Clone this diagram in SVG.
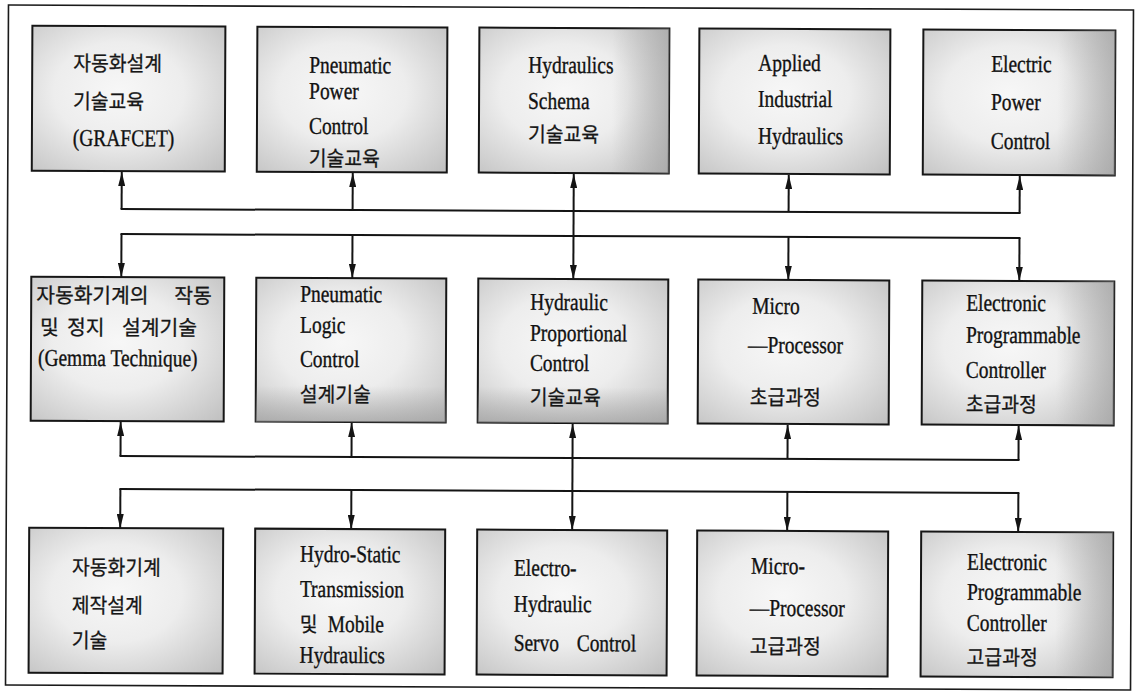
<svg xmlns="http://www.w3.org/2000/svg" width="1140" height="694" viewBox="0 0 1140 694">
  <defs>
    <style>
      .box { fill: url(#shade); stroke: #161616; stroke-width: 2; }
      .lat { font-family: "Liberation Serif", "Times New Roman", serif; font-size: 24px; fill: #111; stroke: #111; stroke-width: 0.35px; }
      .kor { font-family: "Noto Sans CJK KR", "Noto Sans CJK SC", sans-serif; font-size: 21px; fill: #161616; stroke: #161616; stroke-width: 0.3px; }
      .wire { stroke: #141414; stroke-width: 2; fill: none; stroke-linecap: square; }
      .arrow { stroke: #141414; stroke-width: 2; fill: none; }
    </style>
    <radialGradient id="shade" cx="0.45" cy="0.45" r="0.75">
      <stop offset="0" stop-color="#f7f7f7"/>
      <stop offset="0.45" stop-color="#ededed"/>
      <stop offset="1" stop-color="#c2c2c2"/>
    </radialGradient>
    <linearGradient id="edgeR" x1="0" y1="0" x2="1" y2="0">
      <stop offset="0.7" stop-color="#9a9a9a" stop-opacity="0"/>
      <stop offset="1" stop-color="#9a9a9a" stop-opacity="0.55"/>
    </linearGradient>
    <linearGradient id="edgeB" x1="0" y1="0" x2="0" y2="1">
      <stop offset="0.75" stop-color="#9a9a9a" stop-opacity="0"/>
      <stop offset="1" stop-color="#9a9a9a" stop-opacity="0.6"/>
    </linearGradient>
    <marker id="head" viewBox="0 0 14 7" refX="14" refY="3.5" markerWidth="14" markerHeight="7" markerUnits="userSpaceOnUse" orient="auto-start-reverse">
      <path d="M0,0 L14,3.5 L0,7 z" fill="#141414"/>
    </marker>
  </defs>

  <rect width="1140" height="694" fill="#ffffff"/>

  <g transform="rotate(0.25 570 347)">
    <!-- outer frame -->
    <rect x="7" y="7.5" width="1125" height="680" fill="none" stroke="#1a1a1a" stroke-width="1.6"/>

    <!-- connectors -->
    <g id="connectors">
      <!-- upper buses -->
      <line class="wire" x1="121" y1="211" x2="1019" y2="211"/>
      <line class="wire" x1="121" y1="236" x2="1019" y2="236"/>
      <!-- arrows up into the first row -->
      <line class="arrow" x1="121" y1="211" x2="121" y2="174" marker-end="url(#head)"/>
      <line class="arrow" x1="352" y1="211" x2="352" y2="174" marker-end="url(#head)"/>
      <line class="arrow" x1="788" y1="211" x2="788" y2="174" marker-end="url(#head)"/>
      <line class="arrow" x1="1019" y1="211" x2="1019" y2="174" marker-end="url(#head)"/>
      <!-- centre column, both ways -->
      <line class="arrow" x1="573" y1="174" x2="573" y2="279" marker-start="url(#head)" marker-end="url(#head)"/>
      <!-- arrows down into the second row -->
      <line class="arrow" x1="121" y1="236" x2="121" y2="279" marker-end="url(#head)"/>
      <line class="arrow" x1="352" y1="236" x2="352" y2="279" marker-end="url(#head)"/>
      <line class="arrow" x1="788" y1="236" x2="788" y2="279" marker-end="url(#head)"/>
      <line class="arrow" x1="1019" y1="236" x2="1019" y2="279" marker-end="url(#head)"/>

      <!-- lower buses -->
      <line class="wire" x1="121" y1="458" x2="1019" y2="458"/>
      <line class="wire" x1="121" y1="491" x2="1019" y2="491"/>
      <!-- arrows up into the second row -->
      <line class="arrow" x1="121" y1="458" x2="121" y2="424" marker-end="url(#head)"/>
      <line class="arrow" x1="352" y1="458" x2="352" y2="424" marker-end="url(#head)"/>
      <line class="arrow" x1="788" y1="458" x2="788" y2="424" marker-end="url(#head)"/>
      <line class="arrow" x1="1019" y1="458" x2="1019" y2="424" marker-end="url(#head)"/>
      <line class="arrow" x1="573" y1="424" x2="573" y2="530" marker-start="url(#head)" marker-end="url(#head)"/>
      <!-- arrows down into the third row -->
      <line class="arrow" x1="121" y1="491" x2="121" y2="530" marker-end="url(#head)"/>
      <line class="arrow" x1="352" y1="491" x2="352" y2="530" marker-end="url(#head)"/>
      <line class="arrow" x1="788" y1="491" x2="788" y2="530" marker-end="url(#head)"/>
      <line class="arrow" x1="1019" y1="491" x2="1019" y2="530" marker-end="url(#head)"/>
    </g>

    <!-- first row -->
    <g id="grafcet">
      <rect class="box" x="31" y="28" width="193" height="145"/>
      <text class="kor" transform="translate(72 73) scale(.92 1)">자동화설계</text>
      <text class="kor" transform="translate(72 111) scale(.92 1)">기술교육</text>
      <text class="lat" transform="translate(72 148) scale(.81 1)">(GRAFCET)</text>
    </g>
    <g id="pneumatic-power">
      <rect class="box" x="256" y="28" width="190" height="145"/>
      <text class="lat" transform="translate(308 74) scale(.81 1)">Pneumatic</text>
      <text class="lat" transform="translate(308 100) scale(.81 1)">Power</text>
      <text class="lat" transform="translate(308 135) scale(.81 1)">Control</text>
      <text class="kor" transform="translate(308 167) scale(.92 1)">기술교육</text>
    </g>
    <g id="hydraulics-schema">
      <rect class="box" x="478" y="28" width="190" height="145"/>
      <rect x="478" y="28" width="190" height="145" fill="url(#edgeR)"/>
      <text class="lat" transform="translate(527 73) scale(.81 1)">Hydraulics</text>
      <text class="lat" transform="translate(527 109) scale(.81 1)">Schema</text>
      <text class="kor" transform="translate(527 142) scale(.92 1)">기술교육</text>
    </g>
    <g id="applied-hydraulics">
      <rect class="box" x="698" y="28" width="191" height="145"/>
      <text class="lat" transform="translate(757 70) scale(.81 1)">Applied</text>
      <text class="lat" transform="translate(757 106) scale(.81 1)">Industrial</text>
      <text class="lat" transform="translate(757 143) scale(.81 1)">Hydraulics</text>
    </g>
    <g id="electric-power">
      <rect class="box" x="922" y="28" width="192" height="145"/>
      <rect x="922" y="28" width="192" height="145" fill="url(#edgeR)"/>
      <text class="lat" transform="translate(990 70) scale(.81 1)">Electric</text>
      <text class="lat" transform="translate(990 108) scale(.81 1)">Power</text>
      <text class="lat" transform="translate(990 147) scale(.81 1)">Control</text>
    </g>

    <!-- second row -->
    <g id="gemma">
      <rect class="box" x="31" y="279" width="193" height="144"/>
      <text class="kor" transform="translate(36 305) scale(.97 1)">자동화기계의</text>
      <text class="kor" transform="translate(174 305) scale(.97 1)">작동</text>
      <text class="kor" transform="translate(40 337) scale(.97 1)">및</text>
      <text class="kor" transform="translate(67 337) scale(.97 1)">정지</text>
      <text class="kor" transform="translate(122 337) scale(.97 1)">설계기술</text>
      <text class="lat" transform="translate(38 368) scale(.81 1)">(Gemma Technique)</text>
    </g>
    <g id="pneumatic-logic">
      <rect class="box" x="256" y="279" width="190" height="144"/>
      <rect x="256" y="279" width="190" height="144" fill="url(#edgeB)"/>
      <text class="lat" transform="translate(300 303) scale(.81 1)">Pneumatic</text>
      <text class="lat" transform="translate(300 334) scale(.81 1)">Logic</text>
      <text class="lat" transform="translate(300 368) scale(.81 1)">Control</text>
      <text class="kor" transform="translate(300 403) scale(.92 1)">설계기술</text>
    </g>
    <g id="hydraulic-proportional">
      <rect class="box" x="478" y="279" width="190" height="144"/>
      <rect x="478" y="279" width="190" height="144" fill="url(#edgeB)"/>
      <text class="lat" transform="translate(530 310) scale(.81 1)">Hydraulic</text>
      <text class="lat" transform="translate(530 341) scale(.81 1)">Proportional</text>
      <text class="lat" transform="translate(530 371) scale(.81 1)">Control</text>
      <text class="kor" transform="translate(530 405) scale(.92 1)">기술교육</text>
    </g>
    <g id="micro-basic">
      <rect class="box" x="698" y="279" width="191" height="144"/>
      <text class="lat" transform="translate(752 313) scale(.81 1)">Micro</text>
      <text class="lat" transform="translate(748 352) scale(.81 1)">—Processor</text>
      <text class="kor" transform="translate(750 404) scale(.92 1)">초급과정</text>
    </g>
    <g id="plc-basic">
      <rect class="box" x="922" y="279" width="192" height="144"/>
      <rect x="922" y="279" width="192" height="144" fill="url(#edgeR)"/>
      <text class="lat" transform="translate(966 309) scale(.81 1)">Electronic</text>
      <text class="lat" transform="translate(966 341) scale(.81 1)">Programmable</text>
      <text class="lat" transform="translate(966 376) scale(.81 1)">Controller</text>
      <text class="kor" transform="translate(966 410) scale(.92 1)">초급과정</text>
    </g>

    <!-- third row -->
    <g id="machine-design">
      <rect class="box" x="30" y="530" width="194" height="145"/>
      <text class="kor" transform="translate(73 577) scale(.92 1)">자동화기계</text>
      <text class="kor" transform="translate(73 615) scale(.92 1)">제작설계</text>
      <text class="kor" transform="translate(73 650) scale(.92 1)">기술</text>
    </g>
    <g id="hydrostatic">
      <rect class="box" x="256" y="530" width="190" height="145"/>
      <text class="lat" transform="translate(301 563) scale(.81 1)">Hydro-Static</text>
      <text class="lat" transform="translate(301 598) scale(.81 1)">Transmission</text>
      <text class="kor" transform="translate(301 633) scale(.92 1)">및</text>
      <text class="lat" transform="translate(329 633) scale(.81 1)">Mobile</text>
      <text class="lat" transform="translate(301 664) scale(.81 1)">Hydraulics</text>
    </g>
    <g id="servo">
      <rect class="box" x="478" y="530" width="190" height="145"/>
      <text class="lat" transform="translate(515 576) scale(.81 1)">Electro-</text>
      <text class="lat" transform="translate(515 612) scale(.81 1)">Hydraulic</text>
      <text class="lat" transform="translate(515 651) scale(.81 1)">Servo</text>
      <text class="lat" transform="translate(578 651) scale(.81 1)">Control</text>
    </g>
    <g id="micro-advanced">
      <rect class="box" x="698" y="530" width="191" height="145"/>
      <text class="lat" transform="translate(752 573) scale(.81 1)">Micro-</text>
      <text class="lat" transform="translate(751 615) scale(.81 1)">—Processor</text>
      <text class="kor" transform="translate(751 653) scale(.92 1)">고급과정</text>
    </g>
    <g id="plc-advanced">
      <rect class="box" x="922" y="530" width="192" height="145"/>
      <rect x="922" y="530" width="192" height="145" fill="url(#edgeR)"/>
      <text class="lat" transform="translate(968 568) scale(.81 1)">Electronic</text>
      <text class="lat" transform="translate(968 598) scale(.81 1)">Programmable</text>
      <text class="lat" transform="translate(968 629) scale(.81 1)">Controller</text>
      <text class="kor" transform="translate(968 663) scale(.92 1)">고급과정</text>
    </g>
  </g>
</svg>
